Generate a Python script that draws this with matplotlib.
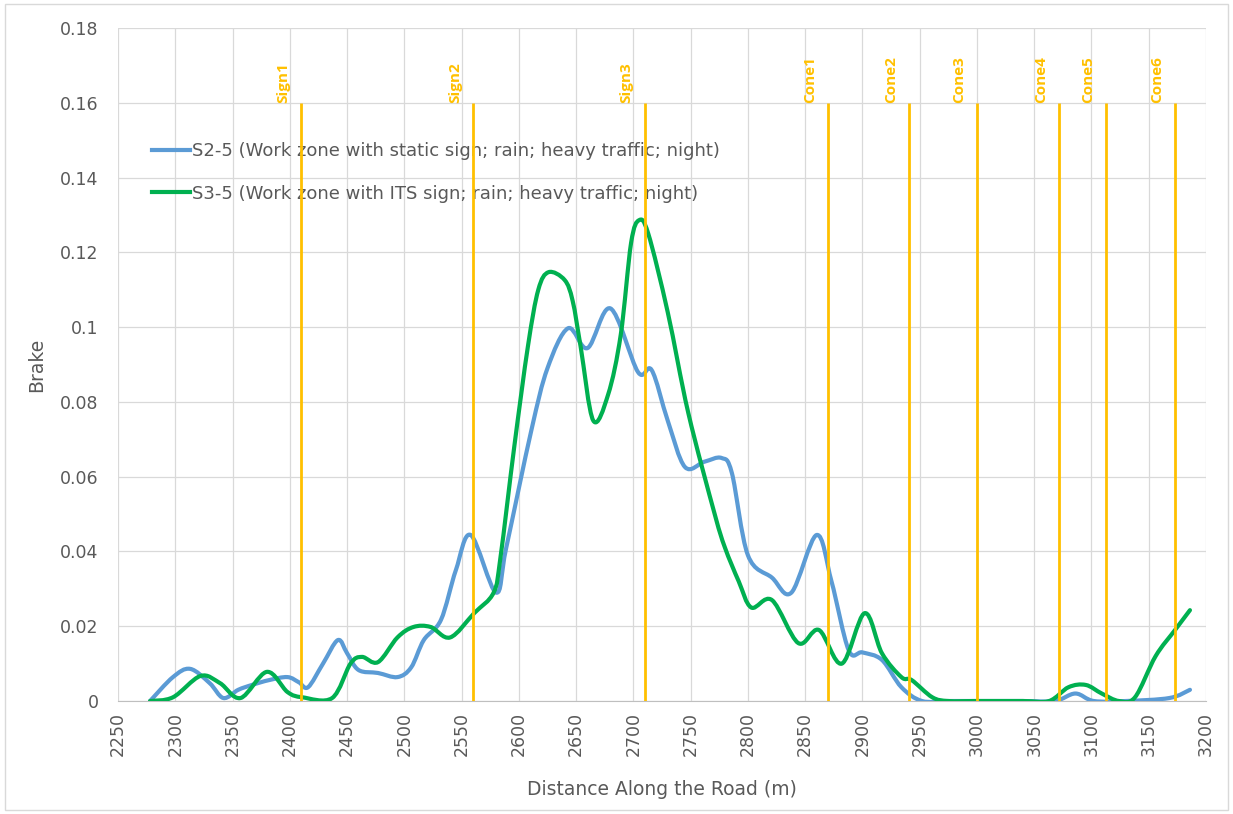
import numpy as np
import matplotlib
matplotlib.use("Agg")
import matplotlib.pyplot as plt
from matplotlib.path import Path
from matplotlib.patches import PathPatch, Rectangle
from matplotlib.lines import Line2D
from matplotlib.ticker import FuncFormatter, MultipleLocator

plt.rcParams['font.family'] = ['DejaVu Sans']

# S2-5 (static sign)
s2_x = [2278, 2298, 2313, 2330, 2342, 2355, 2367, 2382, 2398, 2408, 2416, 2429,
        2442, 2450, 2460, 2477, 2494, 2506, 2517, 2532, 2545, 2558, 2580, 2589,
        2611, 2625, 2643, 2660, 2680, 2704, 2716, 2730, 2745, 2762,
        2777, 2786, 2800, 2821, 2838, 2860, 2873, 2888, 2900, 2917, 2934, 2952,
        2975, 3000, 3040, 3068, 3086, 3102, 3130, 3168, 3186]
s2_y = [0, 0.0064, 0.0086, 0.0048, 0.0008, 0.003, 0.0043, 0.0056, 0.0064, 0.005,
        0.0037, 0.010, 0.0163, 0.0128, 0.0083, 0.0075, 0.0064, 0.009, 0.0163,
        0.0217, 0.035, 0.0444, 0.029, 0.041, 0.0725, 0.089, 0.0997, 0.0944,
        0.105, 0.088, 0.0885, 0.075, 0.0626, 0.064, 0.065, 0.061, 0.039,
        0.033, 0.029, 0.0444, 0.032, 0.0136, 0.013, 0.011, 0.0037, 0, 0, 0, 0, 0,
        0.002, 0, 0, 0.0008, 0.003]

# S3-5 (ITS sign)
s3_x = [2278, 2298, 2322, 2339, 2357, 2380, 2398, 2411, 2437, 2453, 2463, 2477,
        2494, 2508, 2523, 2540, 2561, 2578, 2584, 2596, 2608, 2617, 2626, 2640,
        2647, 2654, 2665, 2678, 2689, 2698, 2705, 2713, 2730, 2748, 2771,
        2780, 2792, 2803, 2821, 2844, 2862, 2882, 2902, 2917, 2934, 2943, 2961,
        2975, 3000, 3040, 3063, 3080, 3095, 3109, 3124, 3138, 3156, 3173, 3186]
s3_y = [0, 0.001, 0.0067, 0.0048, 0.0008, 0.0078, 0.0024, 0.001, 0.0008, 0.010,
        0.0118, 0.0104, 0.017, 0.0198, 0.0198, 0.017, 0.0235, 0.029, 0.0385,
        0.068, 0.095, 0.110, 0.1147, 0.1126, 0.107, 0.0947, 0.075, 0.082, 0.098,
        0.1225, 0.1286, 0.125, 0.104, 0.077, 0.050, 0.041, 0.032,
        0.025, 0.027, 0.0155, 0.019, 0.010, 0.0235, 0.0128, 0.0064, 0.0056,
        0.001, 0, 0, 0, 0, 0.0037, 0.0043, 0.002, 0, 0.001, 0.012, 0.019, 0.0243]

marker_names = ['Sign1', 'Sign2', 'Sign3', 'Cone1', 'Cone2', 'Cone3',
                'Cone4', 'Cone5', 'Cone6']
marker_pos = [2410, 2560, 2710, 2870, 2941, 3000, 3072, 3113, 3173]
marker_top = 0.16

label_s2 = 'S2-5 (Work zone with static sign; rain; heavy traffic; night)'
label_s3 = 'S3-5 (Work zone with ITS sign; rain; heavy traffic; night)'

blue = '#5B9BD5'
green = '#00B050'
gold = '#FFC000'
grey_txt = '#595959'


def smooth_path(xs, ys):
    # Excel-like smoothed line: cubic Bezier segments through every point
    p = np.column_stack([xs, ys]).astype(float)
    verts = [p[0]]
    codes = [Path.MOVETO]
    n = len(p)
    for i in range(n - 1):
        p0 = p[i - 1] if i > 0 else p[i]
        p3 = p[i + 2] if i + 2 < n else p[i + 1]
        c1 = p[i] + (p[i + 1] - p0) / 6.0
        c2 = p[i + 1] - (p3 - p[i]) / 6.0
        verts += [c1, c2, p[i + 1]]
        codes += [Path.CURVE4] * 3
    return Path(verts, codes)


fig = plt.figure(figsize=(12.33, 8.14), dpi=100)
ax = fig.add_axes([0.0957, 0.1388, 0.8824, 0.8268])

ax.set_xlim(2250, 3200)
ax.set_ylim(0, 0.18)
ax.xaxis.set_major_locator(MultipleLocator(50))
ax.yaxis.set_major_locator(MultipleLocator(0.02))
ax.yaxis.set_major_formatter(FuncFormatter(lambda v, p: '%g' % round(v, 4)))
ax.grid(True, color='#D9D9D9', linewidth=0.9)
ax.set_axisbelow(True)
for s in ['top', 'right', 'left']:
    ax.spines[s].set_visible(False)
ax.spines['bottom'].set_color('#BFBFBF')
ax.tick_params(axis='both', length=0, labelsize=12.5, labelcolor=grey_txt)
ax.tick_params(axis='y', pad=14)
ax.tick_params(axis='x', pad=8, labelrotation=90)

ax.add_patch(PathPatch(smooth_path(s2_x, s2_y), facecolor='none', edgecolor=blue,
                       linewidth=3.0, capstyle='round', joinstyle='round', zorder=3))
ax.add_patch(PathPatch(smooth_path(s3_x, s3_y), facecolor='none', edgecolor=green,
                       linewidth=3.0, capstyle='round', joinstyle='round', zorder=4))

for name, xm in zip(marker_names, marker_pos):
    ax.vlines(xm, 0, marker_top, color=gold, linewidth=2.0, zorder=6)
    ax.annotate(name, (xm, marker_top), xytext=(-8, 0), textcoords='offset points',
                rotation=90, ha='right', va='bottom', color=gold, fontsize=11,
                family='Open Sans', fontweight='bold')

handles = [Line2D([], [], color=blue, linewidth=3.0),
           Line2D([], [], color=green, linewidth=3.0)]
ax.legend(handles, [label_s2, label_s3], loc='upper left',
          bbox_to_anchor=(0.031, 0.830), frameon=False, fontsize=13,
          handlelength=2.1, handletextpad=0.15, labelspacing=1.35,
          borderpad=0, borderaxespad=0, labelcolor=grey_txt)

ax.set_xlabel('Distance Along the Road (m)', fontsize=13.5, color=grey_txt, labelpad=17)
ax.set_ylabel('Brake', fontsize=13.5, color=grey_txt, labelpad=10)

fig.patches.append(Rectangle((0.004, 0.005), 0.992, 0.99, transform=fig.transFigure,
                             fill=False, edgecolor='#D9D9D9', linewidth=1.0))

fig.savefig('out.png', dpi=100)
